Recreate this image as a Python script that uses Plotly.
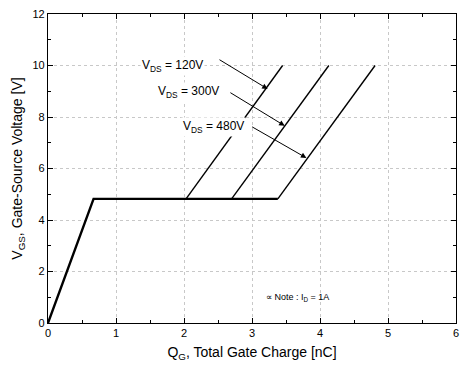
import plotly.graph_objects as go

# Data
vds_labels = ["120V", "300V", "480V"]
qg_knee = 0.67          # nC, end of first rise
vgs_plateau = 4.82      # V, Miller plateau
plateau_end = [2.03, 2.70, 3.38]   # nC, plateau end per V_DS
rise_end_q = [3.45, 4.13, 4.81]    # nC at 10 V
rise_end_v = [10.0, 10.0, 10.0]

x_ticks = [0, 1, 2, 3, 4, 5, 6]
y_ticks = [0, 2, 4, 6, 8, 10, 12]

FONT = "Arial, Liberation Sans, sans-serif"

fig = go.Figure()

# common part: initial rise + plateau (bold)
fig.add_trace(go.Scatter(
    x=[0, qg_knee, max(plateau_end)],
    y=[0, vgs_plateau, vgs_plateau],
    mode="lines", line=dict(color="black", width=2.4),
    showlegend=False, hoverinfo="skip"))

for pe, qe, ve in zip(plateau_end, rise_end_q, rise_end_v):
    fig.add_trace(go.Scatter(
        x=[pe, qe], y=[vgs_plateau, ve],
        mode="lines", line=dict(color="black", width=1.4),
        showlegend=False, hoverinfo="skip"))

# label positions (text center) and arrows (tail -> head)
label_pos = [(1.83, 9.99), (2.06, 8.98), (2.43, 7.61)]
arrow_tail = [(2.50, 10.26), (2.66, 8.98), (2.98, 7.65)]
arrow_head = [(3.23, 9.09), (3.48, 7.66), (3.80, 6.41)]

for lab, (tx, ty), (ax, ay), (hx, hy) in zip(vds_labels, label_pos, arrow_tail, arrow_head):
    fig.add_annotation(x=hx, y=hy, ax=ax, ay=ay, xref="x", yref="y",
                       axref="x", ayref="y", text="", showarrow=True,
                       arrowhead=2, arrowsize=1.1, arrowwidth=1, arrowcolor="black",
                       standoff=0, startstandoff=0)
    fig.add_annotation(x=tx, y=ty, xref="x", yref="y", showarrow=False,
                       text="V<sub>DS</sub> = " + lab, bgcolor="white",
                       font=dict(family=FONT, size=12, color="black"))

fig.add_annotation(x=3.17, y=1.0, xref="x", yref="y", xanchor="left", showarrow=False,
                   text="∝ Note : I<sub>D</sub> = 1A",
                   font=dict(family=FONT, size=9, color="black"))

axis_common = dict(
    showline=True, linecolor="black", linewidth=1.2, mirror="ticks",
    ticks="inside", ticklen=5, tickwidth=1, tickcolor="black",
    showgrid=True, gridcolor="#c8c8c8", griddash="dot", gridwidth=1,
    zeroline=False, tickfont=dict(family=FONT, size=11, color="black"),
    automargin=False,
)

fig.update_xaxes(range=[0, 6], tickvals=x_ticks, ticktext=[str(v) for v in x_ticks],
                 minor=dict(dtick=0.5, ticks="inside", ticklen=3, tickcolor="black", showgrid=False),
                 title=dict(text="Q<sub>G</sub>, Total Gate Charge [nC]",
                            font=dict(family=FONT, size=14, color="black"), standoff=8),
                 **axis_common)
fig.update_yaxes(range=[0, 12], tickvals=y_ticks, ticktext=[str(v) for v in y_ticks],
                 minor=dict(dtick=1, ticks="inside", ticklen=3, tickcolor="black", showgrid=False),
                 title=dict(text="V<sub>GS</sub>, Gate-Source Voltage [V]",
                            font=dict(family=FONT, size=14, color="black"), standoff=6),
                 **axis_common)

fig.update_layout(width=461, height=373, margin=dict(l=48, r=5, t=14, b=50),
                  plot_bgcolor="white", paper_bgcolor="white", showlegend=False)

fig.write_html("out.html")
